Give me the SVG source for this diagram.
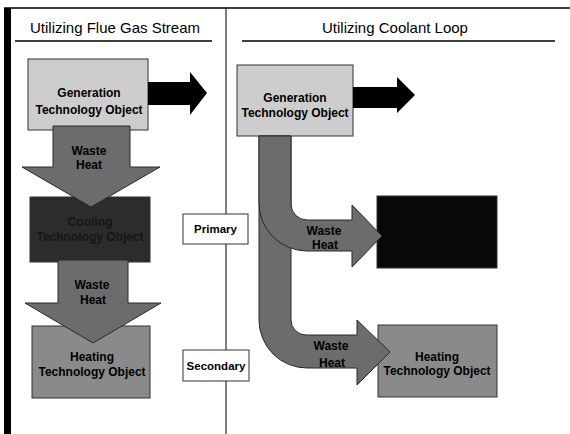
<svg xmlns="http://www.w3.org/2000/svg" width="570" height="434" viewBox="0 0 570 434">
<style>
text{font-family:"Liberation Sans",Arial,sans-serif;fill:#000;text-anchor:middle}
.hdr{font-size:15px}
.lbl{font-size:12px;font-weight:bold}
.tag{font-size:11.5px;font-weight:bold}
.box{stroke:#333;stroke-width:1}
.gen{fill:#cdcdcd}
.cool{fill:#2c2c2c}
.coolr{fill:#080808}
.heat{fill:#8a8a8a}
.wh{fill:#6c6c6c;stroke:#2a2a2a;stroke-width:1}
.blk{fill:#000}
.tagbox{fill:#fff;stroke:#333;stroke-width:1}
</style>
<rect width="570" height="434" fill="#fff"/>
<g id="frame">
<line x1="4" y1="8" x2="570" y2="8" stroke="#000" stroke-width="1.5"/>
<rect x="4" y="8" width="7" height="426" fill="#000"/>
<line x1="226" y1="8" x2="226" y2="434" stroke="#000" stroke-width="1"/>
<text class="hdr" x="115" y="33">Utilizing Flue Gas Stream</text>
<line x1="15" y1="41" x2="212" y2="41" stroke="#000" stroke-width="1.5"/>
<text class="hdr" x="395" y="33">Utilizing Coolant Loop</text>
<line x1="242" y1="41" x2="555" y2="41" stroke="#000" stroke-width="1.5"/>
</g>
<g id="gen-left"><rect class="box gen" x="28" y="59" width="120" height="71"/>
<text class="lbl" x="89" y="97">Generation</text><text class="lbl" x="89" y="114">Technology Object</text></g>
<g id="cool-left"><rect class="box cool" x="30" y="197" width="120" height="65"/>
<text class="lbl" x="90" y="226" style="fill:#161616">Cooling</text><text class="lbl" x="90" y="241" style="fill:#161616">Technology Object</text></g>
<g id="heat-left"><rect class="box heat" x="32" y="326" width="118" height="72"/>
<text class="lbl" x="92" y="361">Heating</text><text class="lbl" x="92" y="376">Technology Object</text></g>
<g id="gen-right"><rect class="box gen" x="237" y="65" width="116" height="71"/>
<text class="lbl" x="295" y="102">Generation</text><text class="lbl" x="295" y="117">Technology Object</text></g>
<g id="cool-right"><rect class="box coolr" x="377" y="196" width="120" height="72"/></g>
<g id="heat-right"><rect class="box heat" x="378" y="325" width="119" height="72"/>
<text class="lbl" x="437" y="361">Heating</text><text class="lbl" x="437" y="375">Technology Object</text></g>
<g id="primary"><rect class="tagbox" x="183" y="214" width="65" height="30"/><text class="tag" x="215.5" y="233">Primary</text></g>
<g id="secondary"><rect class="tagbox" x="183" y="350" width="66" height="31"/><text class="tag" x="216" y="370">Secondary</text></g>
<g id="connectors">
<polygon class="blk" points="148,82 190,82 190,72 207,93 190,115 190,105 148,105"/>
<polygon class="blk" points="353,87 397,87 397,77 415,95 397,113 397,108 353,108"/>
<polygon class="wh" points="53,126 130,126 130,167 160,167 91,207 22,167 53,167"/>
<polygon class="wh" points="58,260 128,260 128,303 161,303 93,343 25,303 58,303"/>
<path class="wh" d="M259,136 H291 V320 A15,15 0 0 0 306,335 H357 V320 L390,352 L357,385 V368 H307 A48,48 0 0 1 259,320 Z"/>
<path class="wh" d="M259,136 H291 V204 A16,16 0 0 0 307,220 H352 V205 L382,236 L352,267 V251 H307 A48,48 0 0 1 259,203 Z"/>
<text class="lbl" x="89" y="155">Waste</text><text class="lbl" x="89" y="169">Heat</text>
<text class="lbl" x="92" y="289">Waste</text><text class="lbl" x="93" y="304">Heat</text>
<text class="lbl" x="324" y="235">Waste</text><text class="lbl" x="325" y="249">Heat</text>
<text class="lbl" x="331" y="350">Waste</text><text class="lbl" x="332" y="367">Heat</text>
</g>
</svg>
